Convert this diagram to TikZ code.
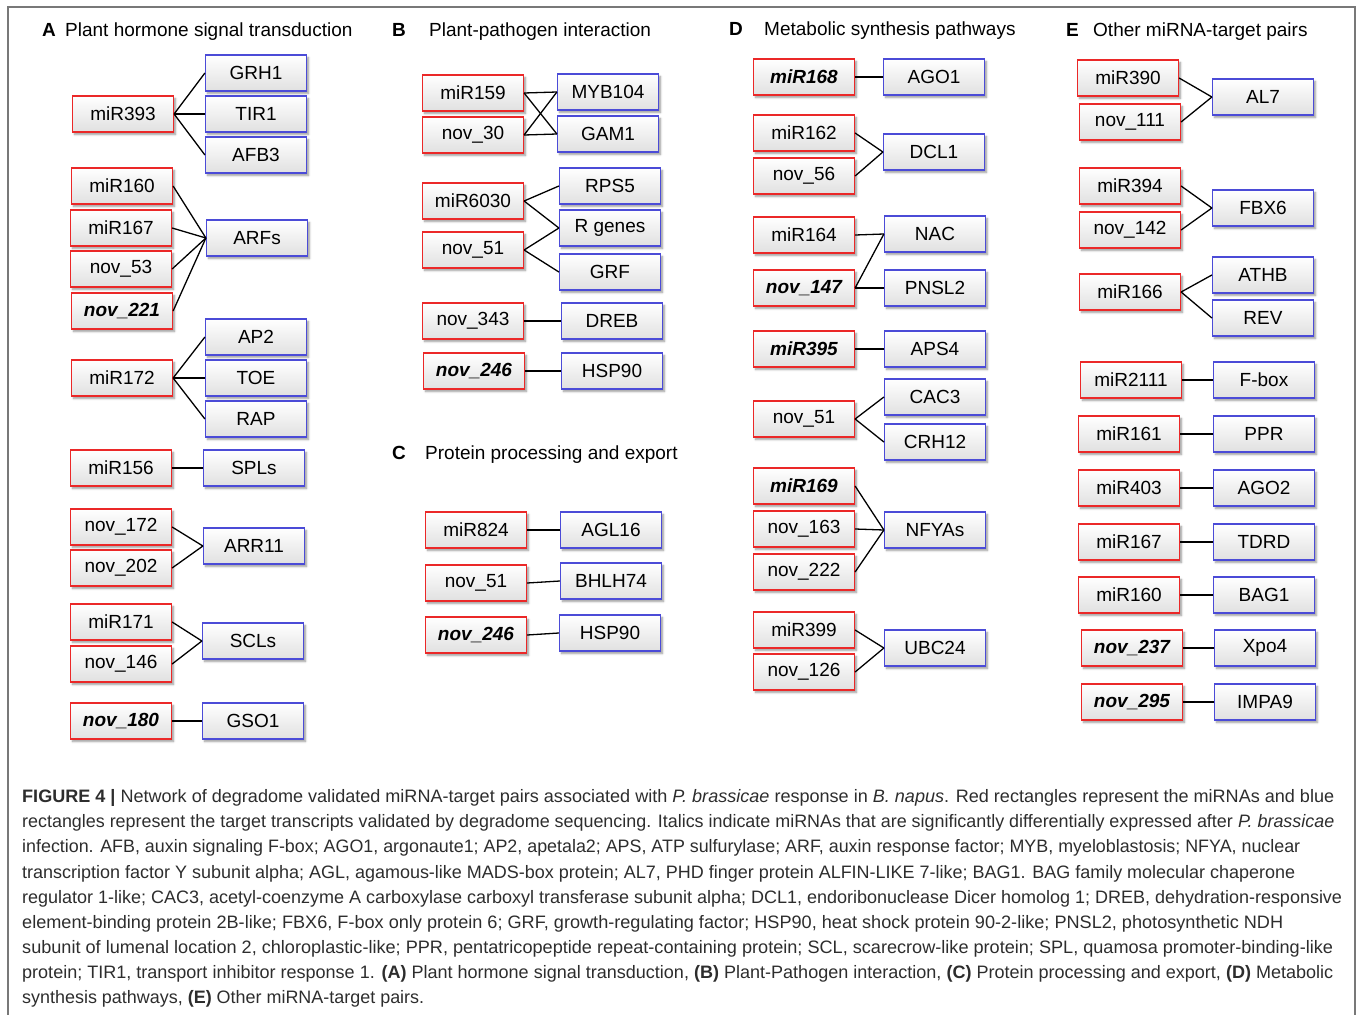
\documentclass[tikz,border=0pt]{standalone}
\usepackage{fontspec}
\setmainfont{Liberation Sans}
\usepackage{graphicx}
\usetikzlibrary{shadows.blur}
\definecolor{rbox}{RGB}{235,40,40}
\definecolor{bbox}{RGB}{75,75,215}
\definecolor{capc}{RGB}{45,45,45}
\definecolor{framec}{RGB}{120,120,120}
\tikzset{
 gbox/.style={minimum width=101pt, minimum height=36pt, inner sep=0pt, line width=1.2pt,
   top color=white, bottom color=black!12,
   blur shadow={shadow xshift=2pt, shadow yshift=-2.5pt, shadow blur steps=5, shadow blur radius=2pt, shadow opacity=40},
   font=\fontsize{19}{22}\selectfont},
 mirna/.style={gbox, draw=rbox},
 target/.style={gbox, draw=bbox},
 sig/.style={mirna, font=\fontsize{19}{22}\selectfont\bfseries\itshape},
 link/.style={line width=1.3pt, black},
 hdr/.style={anchor=base west, inner sep=0pt, font=\fontsize{19}{22}\selectfont},
 captext/.style={anchor=base west, inner sep=0pt, text=capc, font=\fontsize{18}{22}\selectfont},
}
\begin{document}
\begin{tikzpicture}[x=1pt,y=-1pt]
\useasboundingbox (0,0) rectangle (1358,1015);
\draw[framec, line width=1.5pt] (8,1016) -- (8,7) -- (1355,7) -- (1355,1016);

% headers
\node[hdr] (hA) at (42,36) {\textbf{A}};
\node[hdr] (tA) at (65,36) {Plant hormone signal transduction};
\node[hdr] (hB) at (392,36) {\textbf{B}};
\node[hdr] (tB) at (429,36) {Plant-pathogen interaction};
\node[hdr] (hD) at (729,35) {\textbf{D}};
\node[hdr] (tD) at (764,35) {Metabolic synthesis pathways};
\node[hdr] (hE) at (1066,36) {\textbf{E}};
\node[hdr] (tE) at (1093,36) {Other miRNA-target pairs};
\node[hdr] (hC) at (392,459) {\textbf{C}};
\node[hdr] (tC) at (425,459) {Protein processing and export};

% ---------------- A
\node[mirna] (r393) at (123,114) {miR393};
\node[target] (GRH1) at (256,73) {GRH1};
\node[target] (TIR1) at (256,114) {TIR1};
\node[target] (AFB3) at (256,155) {AFB3};
\node[mirna] (r160) at (122,186) {miR160};
\node[mirna] (r167) at (121,228) {miR167};
\node[mirna] (n53) at (121,269) {nov\_53};
\node[sig] (n221) at (122,311) {nov\_221};
\node[target] (ARFs) at (257,238) {ARFs};
\node[target] (AP2) at (256,337) {AP2};
\node[mirna] (r172) at (122,378) {miR172};
\node[target] (TOE) at (256,378) {TOE};
\node[target] (RAP) at (256,419) {RAP};
\node[mirna] (r156) at (121,468) {miR156};
\node[target] (SPLs) at (254,468) {SPLs};
\node[mirna] (n172) at (121,527) {nov\_172};
\node[mirna] (n202) at (121,568) {nov\_202};
\node[target] (ARR11) at (254,546) {ARR11};
\node[mirna] (r171) at (121,622) {miR171};
\node[mirna] (n146) at (121,664) {nov\_146};
\node[target] (SCLs) at (253,641) {SCLs};
\node[sig] (n180) at (121,721) {nov\_180};
\node[target] (GSO1) at (253,721) {GSO1};

% ---------------- B
\node[mirna] (r159) at (473,93) {miR159};
\node[mirna] (n30) at (473,135) {nov\_30};
\node[target] (MYB104) at (608,92) {MYB104};
\node[target] (GAM1) at (608,134) {GAM1};
\node[target] (RPS5) at (610,186) {RPS5};
\node[mirna] (r6030) at (473,201) {miR6030};
\node[target] (Rgenes) at (610,228) {R genes};
\node[mirna] (n51b) at (473,250) {nov\_51};
\node[target] (GRF) at (610,272) {GRF};
\node[mirna] (n343) at (473,321) {nov\_343};
\node[target] (DREB) at (612,321) {DREB};
\node[sig] (n246b) at (474,371) {nov\_246};
\node[target] (HSPb) at (612,371) {HSP90};

% ---------------- C
\node[mirna] (r824) at (476,530) {miR824};
\node[target] (AGL16) at (611,530) {AGL16};
\node[mirna] (n51c) at (476,583) {nov\_51};
\node[target] (BHLH74) at (611,581) {BHLH74};
\node[sig] (n246c) at (476,635) {nov\_246};
\node[target] (HSPc) at (610,633) {HSP90};

% ---------------- D
\node[sig] (r168) at (804,77) {miR168};
\node[target] (AGO1) at (934,77) {AGO1};
\node[mirna] (r162) at (804,133) {miR162};
\node[mirna] (n56) at (804,176) {nov\_56};
\node[target] (DCL1) at (934,152) {DCL1};
\node[mirna] (r164) at (804,235) {miR164};
\node[target] (NAC) at (935,234) {NAC};
\node[sig] (n147) at (804,288) {nov\_147};
\node[target] (PNSL2) at (935,288) {PNSL2};
\node[sig] (r395) at (804,349) {miR395};
\node[target] (APS4) at (935,349) {APS4};
\node[target] (CAC3) at (935,397) {CAC3};
\node[mirna] (n51d) at (804,419) {nov\_51};
\node[target] (CRH12) at (935,442) {CRH12};
\node[sig] (r169) at (804,486) {miR169};
\node[mirna] (n163) at (804,529) {nov\_163};
\node[mirna] (n222) at (804,572) {nov\_222};
\node[target] (NFYAs) at (935,530) {NFYAs};
\node[mirna] (r399) at (804,630) {miR399};
\node[mirna] (n126) at (804,672) {nov\_126};
\node[target] (UBC24) at (935,648) {UBC24};

% ---------------- E
\node[mirna] (r390) at (1128,78) {miR390};
\node[mirna] (n111) at (1130,122) {nov\_111};
\node[target] (AL7) at (1263,97) {AL7};
\node[mirna] (r394) at (1130,186) {miR394};
\node[mirna] (n142) at (1130,230) {nov\_142};
\node[target] (FBX6) at (1263,208) {FBX6};
\node[target] (ATHB) at (1263,275) {ATHB};
\node[mirna] (r166) at (1130,292) {miR166};
\node[target] (REV) at (1263,318) {REV};
\node[mirna] (r2111) at (1131,380) {miR2111};
\node[target] (Fbox) at (1264,380) {F-box};
\node[mirna] (r161) at (1129,434) {miR161};
\node[target] (PPR) at (1264,434) {PPR};
\node[mirna] (r403) at (1129,488) {miR403};
\node[target] (AGO2) at (1264,488) {AGO2};
\node[mirna] (r167e) at (1129,542) {miR167};
\node[target] (TDRD) at (1264,542) {TDRD};
\node[mirna] (r160e) at (1129,595) {miR160};
\node[target] (BAG1) at (1264,595) {BAG1};
\node[sig] (n237) at (1132,648) {nov\_237};
\node[target] (Xpo4) at (1265,648) {Xpo4};
\node[sig] (n295) at (1132,702) {nov\_295};
\node[target] (IMPA9) at (1265,702) {IMPA9};

% ---------------- links
\foreach \a/\b in {r393/GRH1, r393/TIR1, r393/AFB3, r160/ARFs, r167/ARFs, n53/ARFs, n221/ARFs,
  r172/AP2, r172/TOE, r172/RAP, r156/SPLs, n172/ARR11, n202/ARR11, r171/SCLs, n146/SCLs, n180/GSO1,
  r159/MYB104, r159/GAM1, n30/MYB104, n30/GAM1, r6030/RPS5, r6030/Rgenes, n51b/Rgenes, n51b/GRF,
  n343/DREB, n246b/HSPb, r824/AGL16, n51c/BHLH74, n246c/HSPc,
  r168/AGO1, r162/DCL1, n56/DCL1, r164/NAC, n147/NAC, n147/PNSL2, r395/APS4, n51d/CAC3, n51d/CRH12,
  r169/NFYAs, n163/NFYAs, n222/NFYAs, r399/UBC24, n126/UBC24,
  r390/AL7, n111/AL7, r394/FBX6, n142/FBX6, r166/ATHB, r166/REV, r2111/Fbox, r161/PPR, r403/AGO2,
  r167e/TDRD, r160e/BAG1, n237/Xpo4, n295/IMPA9}
  \draw[link] (\a.east) -- (\b.west);

% ---------------- caption
\node[captext] (c1) at (22,802) {\resizebox{1312pt}{\height}{\textbf{FIGURE 4 |} Network of degradome validated miRNA-target pairs associated with \textit{P. brassicae} response in \textit{B. napus}. Red rectangles represent the miRNAs and blue}};
\node[captext] (c2) at (22,827) {\resizebox{1312pt}{\height}{rectangles represent the target transcripts validated by degradome sequencing. Italics indicate miRNAs that are significantly differentially expressed after \textit{P. brassicae}}};
\node[captext] (c3) at (22,852) {\resizebox{1278pt}{\height}{infection. AFB, auxin signaling F-box; AGO1, argonaute1; AP2, apetala2; APS, ATP sulfurylase; ARF, auxin response factor; MYB, myeloblastosis; NFYA, nuclear}};
\node[captext] (c4) at (22,878) {\resizebox{1273pt}{\height}{transcription factor Y subunit alpha; AGL, agamous-like MADS-box protein; AL7, PHD finger protein ALFIN-LIKE 7-like; BAG1. BAG family molecular chaperone}};
\node[captext] (c5) at (22,903) {\resizebox{1320pt}{\height}{regulator 1-like; CAC3, acetyl-coenzyme A carboxylase carboxyl transferase subunit alpha; DCL1, endoribonuclease Dicer homolog 1; DREB, dehydration-responsive}};
\node[captext] (c6) at (22,928) {\resizebox{1261pt}{\height}{element-binding protein 2B-like; FBX6, F-box only protein 6; GRF, growth-regulating factor; HSP90, heat shock protein 90-2-like; PNSL2, photosynthetic NDH}};
\node[captext] (c7) at (22,953) {\resizebox{1311pt}{\height}{subunit of lumenal location 2, chloroplastic-like; PPR, pentatricopeptide repeat-containing protein; SCL, scarecrow-like protein; SPL, quamosa promoter-binding-like}};
\node[captext] (c8) at (22,978) {\resizebox{1311pt}{\height}{protein; TIR1, transport inhibitor response 1. \textbf{(A)} Plant hormone signal transduction, \textbf{(B)} Plant-Pathogen interaction, \textbf{(C)} Protein processing and export, \textbf{(D)} Metabolic}};
\node[captext] (c9) at (22,1003) {\resizebox{402pt}{\height}{synthesis pathways, \textbf{(E)} Other miRNA-target pairs.}};
\end{tikzpicture}
\end{document}
